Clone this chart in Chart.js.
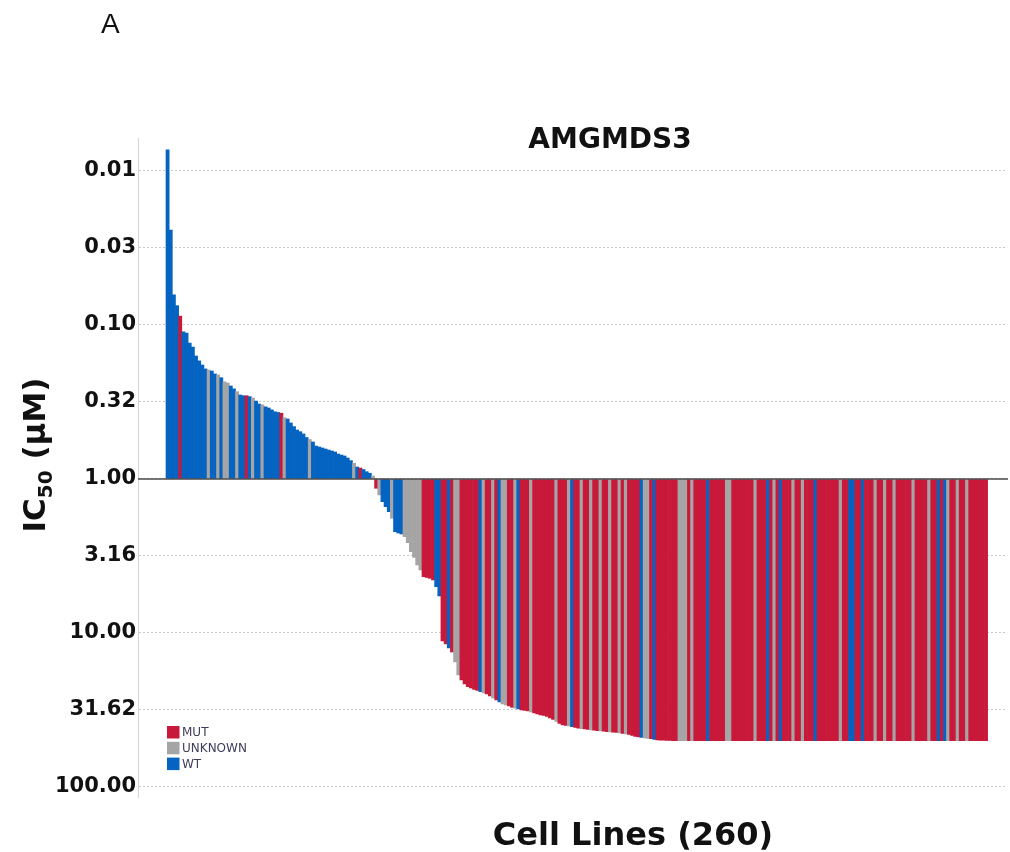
<!DOCTYPE html>
<html>
<head>
<meta charset="utf-8">
<script src="https://cdn.jsdelivr.net/npm/chart.js@4.4.1/dist/chart.umd.min.js"></script>
<style>
  html, body { margin: 0; padding: 0; background: #ffffff; }
  #wrap { position: relative; width: 1010px; height: 852px; }
</style>
</head>
<body>
<div id="wrap"><canvas id="c" width="1010" height="852"></canvas></div>
<script>
// ---- DATA ----
const panelLabel = "A";
const chartTitle = "AMGMDS3";
const xAxisTitle = "Cell Lines (260)";
const yAxisTitleMain = "IC";
const yAxisTitleSub = "50";
const yAxisTitleUnit = " (\u03BCM)";

// IC50 values (µM), one per cell line, sorted as in the waterfall
const ic50 = [
  0.0073, 0.0242, 0.0638, 0.0749, 0.0874, 0.111, 0.113, 0.131, 0.139, 0.159,
  0.171, 0.182, 0.193, 0.196, 0.199, 0.208, 0.211, 0.220, 0.234, 0.238,
  0.249, 0.260, 0.271, 0.285, 0.288, 0.288, 0.292, 0.298, 0.312, 0.326,
  0.330, 0.340, 0.346, 0.356, 0.366, 0.370, 0.374, 0.400, 0.408, 0.433,
  0.457, 0.481, 0.493, 0.510, 0.538, 0.554, 0.575, 0.611, 0.620, 0.629,
  0.639, 0.649, 0.658, 0.668, 0.689, 0.699, 0.709, 0.731, 0.760, 0.791,
  0.836, 0.849, 0.868, 0.897, 0.918, 0.956, 1.149, 1.270, 1.404, 1.513,
  1.631, 1.800, 2.199, 2.242, 2.276, 2.370, 2.593, 2.966, 3.225, 3.618,
  3.898, 4.309, 4.361, 4.414, 4.527, 5.005, 5.751, 11.27, 11.79, 12.52,
  13.29, 15.43, 18.74, 20.20, 21.44, 22.33, 22.76, 23.28, 23.63, 24.05,
  24.52, 24.89, 25.65, 26.42, 27.23, 28.06, 28.91, 29.35, 29.79, 30.38,
  30.83, 31.15, 31.62, 31.86, 32.09, 32.58, 33.07, 33.57, 34.07, 34.33,
  34.85, 35.64, 36.45, 37.55, 38.69, 39.57, 39.86, 40.17, 40.59, 41.08,
  41.57, 41.82, 42.01, 42.33, 42.65, 42.84, 43.10, 43.29, 43.48, 43.74,
  43.94, 44.13, 44.27, 44.60, 44.94, 45.27, 45.61, 46.30, 47.00, 47.35,
  47.70, 48.06, 48.30, 48.60, 49.15, 49.50, 49.60, 49.70, 49.80, 49.90,
  50, 50, 50, 50, 50, 50, 50, 50, 50, 50,
  50, 50, 50, 50, 50, 50, 50, 50, 50, 50,
  50, 50, 50, 50, 50, 50, 50, 50, 50, 50,
  50, 50, 50, 50, 50, 50, 50, 50, 50, 50,
  50, 50, 50, 50, 50, 50, 50, 50, 50, 50,
  50, 50, 50, 50, 50, 50, 50, 50, 50, 50,
  50, 50, 50, 50, 50, 50, 50, 50, 50, 50,
  50, 50, 50, 50, 50, 50, 50, 50, 50, 50,
  50, 50, 50, 50, 50, 50, 50, 50, 50, 50,
  50, 50, 50, 50, 50, 50, 50, 50, 50, 50
];

// Mutation status per cell line: M = MUT, U = UNKNOWN, W = WT
const statusRows = [
  "WWWWMWWWWW", "WWWUWWUWUU", "WWUWWMWUWW", "UWWWWWMUWW", "WWWWWUWWWW",
  "WWWWWWWWWU", "WMWWWUMUWW", "WUWWWUUUUU", "UMMMMWWMMW", "MUUMMMMMMW",
  "UMMUMWUUMM", "UWMMMUMMMM", "MMMUMMMUWM", "MUMMUMMUMM", "UMMUMUMMMM",
  "WUUMWMMMMM", "MMUUUMUMMM", "MWMMMMMUUM", "MMMMMMUMMM", "WMUMWMMMUM",
  "MUMMMWMMMM", "MMMUMMWWMM", "WMMMUMMUMM", "UMMMMMUMMM", "MUMMWMWUMM",
  "UMMUMMMMMM"
];
const statusCodes = statusRows.join("").split("");

const legendCodes = ["M", "U", "W"];
const legendLabels = ["MUT", "UNKNOWN", "WT"];
const legendColors = ["#C8193A", "#A5A5A5", "#0563C1"];

// Y axis ticks (µM)
const tickValues = [0.01, 0.0316, 0.1, 0.316, 1, 3.16, 10, 31.62, 100];
const tickLabels = ["0.01", "0.03", "0.10", "0.32", "1.00", "3.16", "10.00", "31.62", "100.00"];

// ---- BUILD ----
const colorOf = {};
legendCodes.forEach((c, i) => { colorOf[c] = legendColors[i]; });
const points = ic50.map((v, i) => ({ x: i, y: Math.log10(v) }));
const barColors = statusCodes.map(c => colorOf[c]);

const FONT = "'DejaVu Sans', Verdana, sans-serif";

const decor = {
  id: 'decor',
  afterDatasetsDraw(chart) {
    const { ctx, chartArea, scales } = chart;
    const y0 = scales.y.getPixelForValue(0);
    ctx.save();
    ctx.strokeStyle = '#4a4a4a';
    ctx.lineWidth = 1.5;
    ctx.beginPath();
    ctx.moveTo(chartArea.left, y0);
    ctx.lineTo(chartArea.right + 3, y0);
    ctx.stroke();
    ctx.restore();
  },
  afterDraw(chart) {
    const { ctx, chartArea } = chart;
    ctx.save();
    ctx.fillStyle = '#111111';
    // panel label
    ctx.font = "28px 'Liberation Sans', Arial, sans-serif";
    ctx.textAlign = 'left';
    ctx.textBaseline = 'alphabetic';
    ctx.fillText(panelLabel, 101, 33);
    // chart title
    ctx.font = "bold 28px " + FONT;
    ctx.textAlign = 'center';
    ctx.fillText(chartTitle, 610, 148);
    // x axis title
    ctx.font = "bold 32px " + FONT;
    ctx.fillText(xAxisTitle, 633, 845);
    // y axis title (rotated with subscript)
    const fMain = "bold 31px " + FONT;
    const fSub = "bold 20px " + FONT;
    ctx.font = fMain;
    const w1 = ctx.measureText(yAxisTitleMain).width;
    const w3 = ctx.measureText(yAxisTitleUnit).width;
    ctx.font = fSub;
    const w2 = ctx.measureText(yAxisTitleSub).width;
    const total = w1 + w2 + w3;
    ctx.translate(45, 455);
    ctx.rotate(-Math.PI / 2);
    ctx.textAlign = 'left';
    let xx = -total / 2;
    ctx.font = fMain;
    ctx.fillText(yAxisTitleMain, xx, 0);
    xx += w1;
    ctx.font = fSub;
    ctx.fillText(yAxisTitleSub, xx, 7);
    xx += w2;
    ctx.font = fMain;
    ctx.fillText(yAxisTitleUnit, xx, 0);
    ctx.restore();

    // legend inside plot area (bottom-left)
    ctx.save();
    const lx = chartArea.left + 29;
    let ly = chartArea.bottom - 71;
    ctx.font = "12px " + FONT;
    ctx.textAlign = 'left';
    ctx.textBaseline = 'middle';
    legendLabels.forEach((lab, i) => {
      ctx.fillStyle = legendColors[i];
      ctx.fillRect(lx, ly, 12.5, 12.5);
      ctx.fillStyle = '#3d3d5c';
      ctx.fillText(lab, lx + 15, ly + 7);
      ly += 15.8;
    });
    ctx.restore();
  }
};

new Chart(document.getElementById('c'), {
  type: 'bar',
  data: {
    datasets: [{
      data: points,
      backgroundColor: barColors,
      borderWidth: 0,
      barPercentage: 1.0,
      categoryPercentage: 1.0
    }]
  },
  options: {
    responsive: false,
    animation: false,
    layout: { padding: { top: 138, bottom: 55, left: 0, right: 5 } },
    plugins: {
      legend: { display: false },
      tooltip: { enabled: false },
      title: { display: false }
    },
    scales: {
      x: {
        type: 'linear',
        display: false,
        offset: false,
        bounds: 'ticks',
        min: -9.36,
        max: 265.0,
        grid: { offset: false }
      },
      y: {
        type: 'linear',
        reverse: true,
        min: -2.214,
        max: 2.065,
        afterFit(scale) { scale.width = 138; },
        afterBuildTicks(scale) {
          scale.ticks = tickValues.map(v => ({ value: Math.log10(v) }));
        },
        ticks: {
          padding: 2,
          color: '#111111',
          font: { family: FONT, size: 21, weight: 'bold' },
          callback(value, index) { return tickLabels[index]; }
        },
        grid: {
          color: '#c9c9c9',
          lineWidth: 1,
          drawTicks: false
        },
        border: {
          display: true,
          color: '#d4d4d4',
          width: 1,
          dash: [2, 2]
        }
      }
    }
  },
  plugins: [decor]
});
</script>
</body>
</html>
